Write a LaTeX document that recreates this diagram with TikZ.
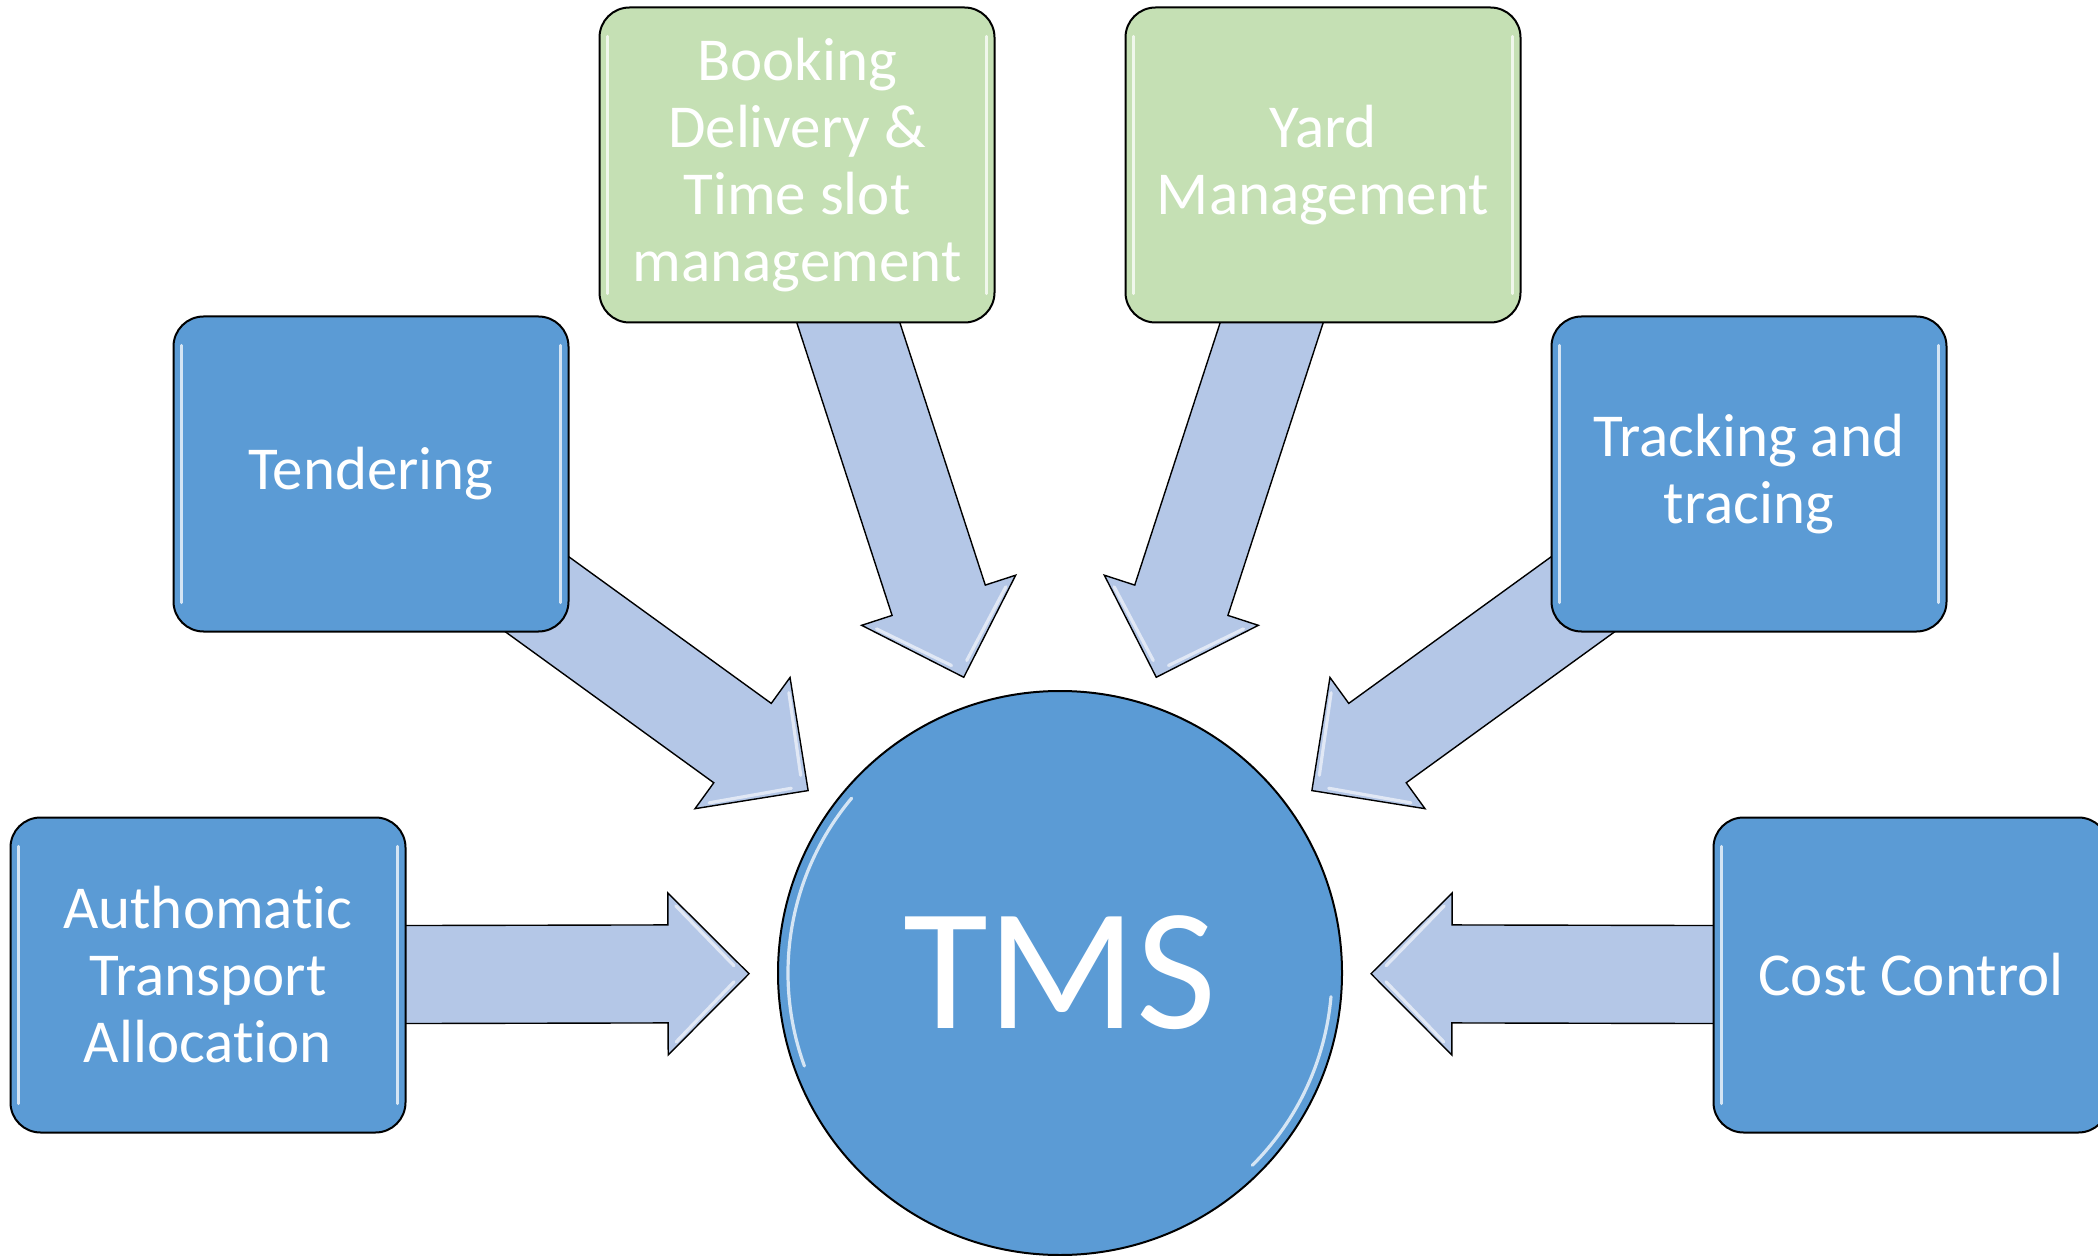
\documentclass[tikz,border=0pt]{standalone}
\usepackage{fontspec}
\setmainfont{Carlito}[Ligatures=NoCommon]
\usetikzlibrary{calc,backgrounds}
\definecolor{boxblue}{HTML}{5B9BD5}
\definecolor{boxgreen}{HTML}{C5E0B4}
\definecolor{arrowfill}{HTML}{B4C7E7}
\tikzset{
  box/.style={draw=black, line width=1pt, rounded corners=15pt,
    minimum width=197.5pt, minimum height=157.5pt, inner sep=0pt,
    align=center, text=white, font=\fontsize{30.5}{33.5}\selectfont},
  bluebox/.style={box, fill=boxblue},
  greenbox/.style={box, fill=boxgreen},
  hub/.style={circle, draw=black, line width=1pt, fill=boxblue,
    minimum size=282pt, inner sep=0pt, text=white,
    font=\fontsize{87}{90}\selectfont},
  blockarrow/.style={draw=black, line width=0.7pt, fill=arrowfill, line join=miter},
  shine/.style={draw=white, line width=1.6pt, opacity=0.75, line cap=round}
}
% #1 = source box, #2 = target hub
\newcommand\feedarrow[2]{%
  \draw[blockarrow]
    ($(#2.center)!155.5pt!(#1.center)$)
    -- ($($(#2.center)!196pt!(#1.center)$)!40.5pt!90:(#1.center)$)
    -- ($($(#2.center)!196pt!(#1.center)$)!24.5pt!90:(#1.center)$)
    -- ($(#1.center)!24.5pt!-90:(#2.center)$)
    -- ($(#1.center)!24.5pt!90:(#2.center)$)
    -- ($($(#2.center)!196pt!(#1.center)$)!24.5pt!-90:(#1.center)$)
    -- ($($(#2.center)!196pt!(#1.center)$)!40.5pt!-90:(#1.center)$)
    -- cycle;
  \draw[shine, opacity=0.6]
    ($($(#2.center)!192pt!(#1.center)$)!34pt!90:(#1.center)$)
    -- ($($(#2.center)!163pt!(#1.center)$)!4pt!90:(#1.center)$);
  \draw[shine, opacity=0.6]
    ($($(#2.center)!192pt!(#1.center)$)!34pt!-90:(#1.center)$)
    -- ($($(#2.center)!163pt!(#1.center)$)!4pt!-90:(#1.center)$);
}
\begin{document}
\begin{tikzpicture}[x=0.5pt, y=-0.5pt]
  \useasboundingbox (0,0) rectangle (2098,1256);
  \clip (0,0) rectangle (2098,1256);

  \node[hub] (tms) at (1060,973) {TMS};

  \node[greenbox] (book) at (797,165) {Booking\\Delivery \&\\Time slot\\management};
  \node[greenbox] (yard) at (1323,165) {Yard\\Management};
  \node[bluebox] (tend) at (371,474) {Tendering};
  \node[bluebox] (track) at (1749,474) {Tracking and\\tracing};
  \node[bluebox] (auto) at (208,975) {Authomatic\\Transport\\Allocation};
  \node[bluebox] (cost) at (1911,975) {Cost Control};

  \foreach \n in {book,yard,tend,track,auto,cost}{
    \draw[shine] ($(\n.north west)+(4.5pt,-15pt)$) -- ($(\n.south west)+(4.5pt,15pt)$);
    \draw[shine] ($(\n.north east)+(-4.5pt,-15pt)$) -- ($(\n.south east)+(-4.5pt,15pt)$);
  }
  \draw[shine] (tms.center) ++(140:136pt) arc[start angle=140, end angle=200, radius=136pt];
  \draw[shine] (tms.center) ++(-5:136pt) arc[start angle=-5, end angle=-45, radius=136pt];

  \begin{scope}[on background layer]
    \feedarrow{book}{tms}
    \feedarrow{yard}{tms}
    \feedarrow{tend}{tms}
    \feedarrow{track}{tms}
    \feedarrow{auto}{tms}
    \feedarrow{cost}{tms}
  \end{scope}
\end{tikzpicture}
\end{document}
